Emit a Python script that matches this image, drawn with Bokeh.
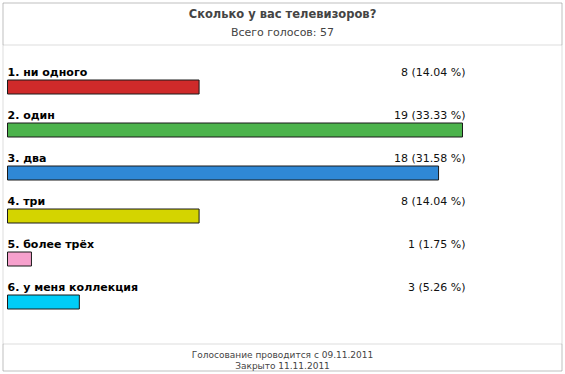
from bokeh.plotting import figure
from bokeh.models import Range1d, BoxAnnotation, Label, ColumnDataSource
from bokeh.core.properties import value
from bokeh.embed import file_html
from bokeh.resources import INLINE

# ---- data ----
title = "Сколько у вас телевизоров?"
subtitle = "Всего голосов: 57"
footer1 = "Голосование проводится с 09.11.2011"
footer2 = "Закрыто 11.11.2011"
options = ["1. ни одного", "2. один", "3. два", "4. три", "5. более трёх", "6. у меня коллекция"]
votes = [8, 19, 18, 8, 1, 3]
percents = [14.04, 33.33, 31.58, 14.04, 1.75, 5.26]
colors = ["#cf2a2a", "#4cb34c", "#2f88d6", "#d4d400", "#f7a1cd", "#00cdf7"]

# ---- layout (reference pixel frame) ----
W, H = 565, 374
REF_W, REF_H = 565, 374
BAR_LEFT = 7.0
BAR_MAX_RIGHT = 462.0
ROW0 = 86.5
ROW_STEP = 43.0
BAR_H = 14.0
FONT = "DejaVu Sans"
GRAY = "#8a8a8a"

p = figure(width=W, height=H, output_backend="svg", toolbar_location=None,
           x_range=Range1d(0, REF_W), y_range=Range1d(REF_H, 0),
           min_border=0, background_fill_color="white", border_fill_color="white")
p.axis.visible = False
p.grid.visible = False
p.outline_line_color = None

vmax = max(votes)
ppv = (BAR_MAX_RIGHT - BAR_LEFT) / vmax
p.extra_x_ranges["votes"] = Range1d(-BAR_LEFT / ppv, (REF_W - BAR_LEFT) / ppv)
p.extra_y_ranges["rows"] = Range1d((REF_H - ROW0) / ROW_STEP, -ROW0 / ROW_STEP)

# frame boxes
p.add_layout(BoxAnnotation(left=2.5, right=561.5, top=2.5, bottom=370.5, fill_alpha=0,
                           line_color=GRAY, line_width=1))
p.add_layout(BoxAnnotation(left=2.5, right=561.5, top=2.5, bottom=44.5, fill_alpha=0,
                           line_color=GRAY, line_width=1))
p.add_layout(BoxAnnotation(left=2.5, right=561.5, top=343.5, bottom=370.5, fill_alpha=0,
                           line_color=GRAY, line_width=1))

src = ColumnDataSource(dict(
    row=list(range(len(options))),
    votes=votes,
    zero=[0] * len(votes),
    label=options,
    val=[f"{v} ({pc:.2f} %)" for v, pc in zip(votes, percents)],
    vx=[vmax] * len(votes),
    color=colors,
))

p.hbar(y="row", left="zero", right="votes", height=BAR_H / ROW_STEP, fill_color="color",
       line_color="#1a1a1a", line_width=1, source=src,
       x_range_name="votes", y_range_name="rows")

p.text(x="zero", y="row", text="label", source=src, x_range_name="votes", y_range_name="rows",
       text_font=value(FONT), text_font_style="bold", text_font_size="11px",
       text_baseline="middle", text_align="left", y_offset=-15, text_color="black")
p.text(x="vx", y="row", text="val", source=src, x_range_name="votes", y_range_name="rows",
       text_font=value(FONT), text_font_size="11px",
       text_baseline="middle", text_align="right", x_offset=3, y_offset=-15, text_color="#111111")

cx = (2.5 + 561.5) / 2
p.add_layout(Label(x=cx, y=13, text=title, text_align="center", text_baseline="middle",
                   text_font=FONT, text_font_style="bold", text_font_size="11.5px"))
p.add_layout(Label(x=cx, y=32, text=subtitle, text_align="center", text_baseline="middle",
                   text_font=FONT, text_font_size="11px"))
p.add_layout(Label(x=cx, y=354, text=footer1, text_align="center", text_baseline="middle",
                   text_font=FONT, text_font_size="9px"))
p.add_layout(Label(x=cx, y=365, text=footer2, text_align="center", text_baseline="middle",
                   text_font=FONT, text_font_size="9px"))

open("out.html", "w").write(file_html(p, INLINE))
